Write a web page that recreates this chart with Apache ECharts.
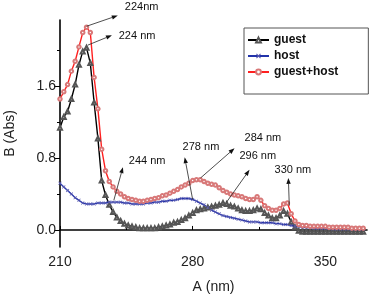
<!DOCTYPE html>
<html><head><meta charset="utf-8">
<script src="https://cdn.jsdelivr.net/npm/echarts@6/dist/echarts.min.js"></script>
<style>html,body{margin:0;padding:0;background:#fff}#c{width:371px;height:296px}</style>
</head><body><div id="c"></div>
<script>
const wavelengths = [
  210,212,214,216,218,220,222,224,226,228,
  230,232,234,236,238,240,242,244,246,248,
  250,252,254,256,258,260,262,264,266,268,
  270,272,274,276,278,280,282,284,286,288,
  290,292,294,296,298,300,302,304,306,308,
  310,312,314,316,318,320,322,324,326,328,
  330,332,334,336,338,340,342,344,346,348,
  350,352,354,356,358,360,362,364,366,368,
  370];
const guest = [
  1.14,1.26,1.32,1.46,1.62,1.84,1.99,2.03,1.86,1.42,
  1.02,0.55,0.39,0.28,0.20,0.14,0.10,0.07,0.05,0.04,
  0.03,0.02,0.02,0.02,0.02,0.02,0.03,0.04,0.05,0.06,
  0.08,0.09,0.11,0.13,0.16,0.19,0.22,0.23,0.24,0.25,
  0.26,0.27,0.28,0.30,0.29,0.27,0.26,0.24,0.22,0.21,
  0.21,0.22,0.24,0.23,0.19,0.16,0.13,0.13,0.16,0.21,
  0.18,0.09,0.03,-0.01,-0.02,-0.02,-0.02,-0.02,-0.02,-0.02,
  -0.02,-0.02,-0.02,-0.02,-0.02,-0.02,-0.02,-0.02,-0.02,-0.02,
  -0.02];
const host = [
  0.52,0.48,0.44,0.40,0.36,0.33,0.30,0.29,0.29,0.29,
  0.30,0.30,0.30,0.31,0.31,0.31,0.31,0.30,0.30,0.29,
  0.29,0.29,0.29,0.30,0.30,0.31,0.31,0.32,0.32,0.33,
  0.33,0.34,0.35,0.35,0.35,0.34,0.32,0.30,0.28,0.25,
  0.22,0.20,0.18,0.16,0.15,0.14,0.13,0.12,0.11,0.10,
  0.09,0.09,0.09,0.08,0.08,0.08,0.08,0.07,0.07,0.06,
  0.06,0.05,0.04,0.04,0.03,0.03,0.03,0.02,0.02,0.02,
  0.02,0.02,0.01,0.01,0.01,0.01,0.01,0.01,0.01,0.01,
  0.01];
const guestHost = [
  1.46,1.54,1.62,1.77,1.88,2.04,2.20,2.26,2.20,1.70,
  1.35,0.90,0.66,0.54,0.48,0.43,0.40,0.37,0.35,0.34,
  0.33,0.32,0.32,0.33,0.34,0.35,0.36,0.38,0.39,0.41,
  0.43,0.45,0.48,0.50,0.52,0.55,0.56,0.56,0.54,0.52,
  0.51,0.50,0.47,0.44,0.42,0.40,0.39,0.38,0.37,0.35,
  0.34,0.34,0.37,0.33,0.27,0.24,0.22,0.22,0.24,0.29,
  0.30,0.18,0.10,0.06,0.05,0.05,0.04,0.04,0.04,0.04,
  0.04,0.03,0.03,0.03,0.03,0.03,0.03,0.02,0.02,0.02,
  0.02];
const xTicks = [210, 280, 350];
const xMinorTicks = [245, 315];
const yTicks = [0, 0.8, 1.6];
const yMinorTicks = [0.4, 1.2, 2.0];
const annotations = [
  {text: '224nm',  from: [224.0, 2.27], to: [240.5, 2.39], at: [244.2, 2.48]},
  {text: '224 nm', from: [224.7, 2.06], to: [237.4, 2.17], at: [241.0, 2.16]},
  {text: '244 nm', from: [238.4, 0.33], to: [243.2, 0.70], at: [246.3, 0.77]},
  {text: '278 nm', from: [280.0, 0.34], to: [275.8, 0.81], at: [274.7, 0.92]},
  {text: '284 nm', from: [284.2, 0.58], to: [302.1, 0.91], at: [307.4, 1.03]},
  {text: '296 nm', from: [297.9, 0.31], to: [310.0, 0.67], at: [304.7, 0.83]},
  {text: '330 nm', from: [331.0, 0.27], to: [330.5, 0.58], at: [323.2, 0.67]}
];

const pair = ys => wavelengths.map((x, i) => [x, ys[i]]);
const FONT = 'Liberation Sans, Arial, sans-serif';
const X_MARK = 'path://M0,1.5L1.5,0L5,3.5L8.5,0L10,1.5L6.5,5L10,8.5L8.5,10L5,6.5L1.5,10L0,8.5L3.5,5Z';

const chart = echarts.init(document.getElementById('c'), null, {renderer: 'canvas'});
const option = {
  animation: false,
  backgroundColor: '#fff',
  grid: {left: 60, right: 4, top: 20, bottom: 49, containLabel: false, outerBoundsMode: 'none'},
  legend: {
    left: 244, top: 28,
    orient: 'vertical',
    borderColor: '#555', borderWidth: 1,
    padding: [6, 30, 16, 3],
    itemWidth: 21, itemHeight: 6, itemGap: 4,
    textStyle: {fontFamily: FONT, fontSize: 12, fontWeight: 'bold', color: '#111'},
    data: ['guest', 'host', 'guest+host']
  },
  xAxis: [{
    type: 'value', min: 210, max: 372, interval: 70,
    name: 'A (nm)', nameLocation: 'middle', nameGap: 33,
    nameTextStyle: {fontFamily: FONT, fontSize: 14, color: '#222'},
    axisLine: {lineStyle: {color: '#000', width: 1.6}},
    axisTick: {show: true, inside: true, length: 4, customValues: xTicks, lineStyle: {color: '#000'}},
    axisLabel: {fontFamily: FONT, fontSize: 14, color: '#222', margin: 8, customValues: xTicks},
    splitLine: {show: false}
  }, {
    type: 'value', min: 210, max: 372, position: 'bottom',
    axisLine: {show: false},
    axisTick: {show: true, inside: true, length: 3, customValues: xMinorTicks, lineStyle: {color: '#000'}},
    axisLabel: {show: false},
    splitLine: {show: false}
  }],
  yAxis: [{
    type: 'value', min: -0.19, max: 2.34,
    name: 'B (Abs)', nameLocation: 'middle', nameGap: 43, nameRotate: 90,
    nameTextStyle: {fontFamily: FONT, fontSize: 14, color: '#222'},
    axisLine: {show: true, lineStyle: {color: '#000', width: 1.6}},
    axisTick: {show: true, length: 6, customValues: yTicks, lineStyle: {color: '#000'}},
    axisLabel: {fontFamily: FONT, fontSize: 14, color: '#222', margin: 4, customValues: yTicks,
      formatter: v => v.toFixed(1)},
    splitLine: {show: false}
  }, {
    type: 'value', min: -0.19, max: 2.34, position: 'left',
    axisLine: {show: false},
    axisTick: {show: true, length: 3, customValues: yMinorTicks, lineStyle: {color: '#000'}},
    axisLabel: {show: false},
    splitLine: {show: false}
  }],
  series: [{
    name: 'guest', type: 'line', data: pair(guest),
    symbol: 'emptyTriangle', symbolSize: 4,
    lineStyle: {color: '#000', width: 1.4},
    itemStyle: {color: '#555', borderWidth: 0.6}
  }, {
    name: 'host', type: 'line', data: pair(host),
    symbol: X_MARK, symbolSize: 3.5,
    lineStyle: {color: '#2233aa', width: 1.4},
    itemStyle: {color: '#5a5ab0'}
  }, {
    name: 'guest+host', type: 'line', data: pair(guestHost),
    symbol: 'emptyCircle', symbolSize: 3.5,
    lineStyle: {color: '#ff2020', width: 1.4},
    itemStyle: {color: '#d87878', borderWidth: 0.6}
  }]
};
chart.setOption(option);

const graphics = [];
annotations.forEach(a => {
  const p0 = chart.convertToPixel({xAxisIndex: 0, yAxisIndex: 0}, a.from);
  const p1 = chart.convertToPixel({xAxisIndex: 0, yAxisIndex: 0}, a.to);
  const pt = chart.convertToPixel({xAxisIndex: 0, yAxisIndex: 0}, a.at);
  const dx = p1[0] - p0[0], dy = p1[1] - p0[1];
  const len = Math.sqrt(dx * dx + dy * dy);
  const ux = dx / len, uy = dy / len;
  const hl = 6, hw = 2.2;
  const bx = p1[0] - ux * hl, by = p1[1] - uy * hl;
  graphics.push({type: 'line', shape: {x1: p0[0], y1: p0[1], x2: bx, y2: by},
    style: {stroke: '#222', lineWidth: 0.8}, z: 100});
  graphics.push({type: 'polygon', shape: {points: [[p1[0], p1[1]], [bx - uy * hw, by + ux * hw], [bx + uy * hw, by - ux * hw]]},
    style: {fill: '#111'}, z: 100});
  graphics.push({type: 'text', x: pt[0], y: pt[1],
    style: {text: a.text, fill: '#111', font: '11px ' + FONT, textVerticalAlign: 'middle', verticalAlign: 'middle'}, z: 100});
});
chart.setOption({graphic: graphics});
</script>
</body></html>
